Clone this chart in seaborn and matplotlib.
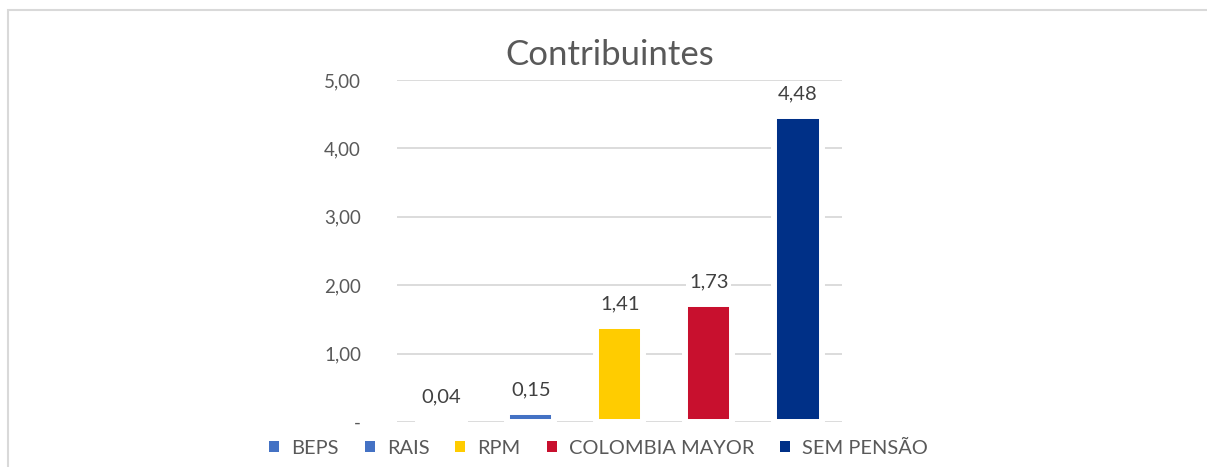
import matplotlib
matplotlib.use("Agg")
import matplotlib.pyplot as plt
import matplotlib.patches as mpatches
import seaborn as sns
import pandas as pd

# --- data ---
categories = ["BEPS", "RAIS", "RPM", "COLOMBIA MAYOR", "SEM PENSÃO"]
values = [0.04, 0.15, 1.41, 1.73, 4.48]
labels = ["0,04", "0,15", "1,41", "1,73", "4,48"]
colors = ["#4472C4", "#4472C4", "#FFCC00", "#C8102E", "#003087"]
yticks = [0, 1, 2, 3, 4, 5]
ytick_labels = ["-", "1,00", "2,00", "3,00", "4,00", "5,00"]

df = pd.DataFrame({"cat": categories, "val": values})

sns.set_style("white")
plt.rcParams["font.family"] = ["Lato", "DejaVu Sans"]

fig = plt.figure(figsize=(12.07, 4.67), dpi=100)
ax = fig.add_axes([0.329, 0.0964, 0.369, 0.7323])

sns.barplot(data=df, x="cat", y="val", hue="cat", palette=colors,
            width=0.53, saturation=1, legend=False, ax=ax,
            edgecolor="white", linewidth=4.3, zorder=3)

ax.set_xlim(-0.5, 4.5)
ax.set_ylim(0, 5)
ax.set_yticks(yticks)
ax.set_yticklabels(ytick_labels)
ax.set_xticks([])
ax.set_xlabel("")
ax.set_ylabel("")
ax.tick_params(axis="y", length=0, pad=26, labelsize=13.5, labelcolor="#595959")
ax.yaxis.grid(True, color="#D9D9D9", linewidth=1.3, zorder=0)
ax.set_axisbelow(True)
for s in ax.spines.values():
    s.set_visible(False)

# value labels with white background, as in the original
for i, (v, lab) in enumerate(zip(values, labels)):
    ax.annotate(lab, (i, v), xytext=(0, 22), textcoords="offset pixels",
                ha="center", va="center", fontsize=14.5, color="#404040",
                bbox=dict(facecolor="white", edgecolor="none", pad=2), zorder=5)

fig.text(0.5055, 0.882, "Contribuintes", ha="center", va="center",
         fontsize=25, color="#595959")

handles = [mpatches.Patch(facecolor=c, edgecolor="none") for c in colors]
fig.legend(handles, categories, loc="center", bbox_to_anchor=(0.496, 0.04),
           ncol=5, frameon=False, fontsize=14.4, labelcolor="#595959",
           handlelength=0.5, handleheight=0.5, handletextpad=0.6,
           columnspacing=1.3)

# light chart-area border
border = mpatches.Rectangle((8 / 1207, -0.1), 1.2, 1 - 10 / 467 + 0.1,
                            transform=fig.transFigure, fill=False,
                            edgecolor="#D9D9D9", linewidth=1.5)
fig.patches.append(border)

fig.savefig("out.png", dpi=100)
